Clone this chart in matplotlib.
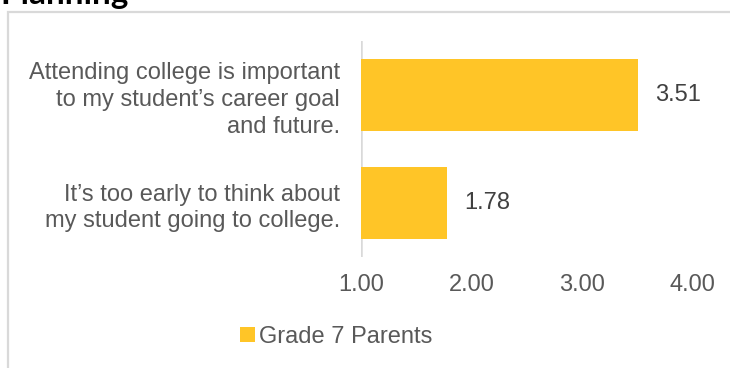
import matplotlib
matplotlib.use("Agg")
import matplotlib.pyplot as plt
from matplotlib.patches import Rectangle

categories = [
    "Attending college is important\nto my student\u2019s career goal\nand future.",
    "It\u2019s too early to think about\nmy student going to college.",
]
values = [3.51, 1.78]
series_name = "Grade 7 Parents"
xticks = [1.0, 2.0, 3.0, 4.0]
title = "Planning"

W, H = 730, 368
fig = plt.figure(figsize=(W / 100, H / 100), dpi=100)

bar_color = "#FFC527"
text_color = "#595959"
value_color = "#404040"
grid_gray = "#D9D9D9"
font = "Liberation Sans"
fs = 17

# outer chart frame
fig.patches.append(Rectangle((8 / W, -0.05), 1.2, 1 - 12 / H + 0.05,
                             transform=fig.transFigure, fill=False,
                             edgecolor=grid_gray, lw=1.6, clip_on=False))

ax = fig.add_axes([361 / W, 1 - 257 / H, 331 / W, 216 / H])
y = list(range(len(categories)))
bars = ax.barh(y, [v - 1.0 for v in values], left=1.0, height=0.667,
               color=bar_color, label=series_name)
ax.set_xlim(1.0, 4.0)
ax.set_ylim(len(categories) - 0.5, -0.5)

for sp in ax.spines.values():
    sp.set_visible(False)
ax.axvline(1.0, color=grid_gray, lw=1.8, zorder=0)

ax.set_yticks(y)
ax.set_yticklabels(categories, fontsize=fs, color=text_color,
                   family=font, linespacing=1.28, ha="right")
ax.set_xticks(xticks)
ax.set_xticklabels([f"{t:.2f}" for t in xticks], fontsize=fs,
                   color=text_color, family=font)
ax.tick_params(axis="both", length=0)
ax.tick_params(axis="y", pad=15)
ax.tick_params(axis="x", pad=12)

for yi, v in zip(y, values):
    ax.text(v + 0.155, yi, f"{v:.2f}", va="center", ha="left",
            fontsize=fs, color=value_color, family=font)

leg = fig.legend(loc="center left", bbox_to_anchor=(240 / W, 1 - 337 / H),
                 frameon=False, handlelength=0.62, handleheight=0.62,
                 handletextpad=0.2, borderaxespad=0, borderpad=0,
                 prop={"family": font, "size": fs})
for t in leg.get_texts():
    t.set_color(text_color)

fig.text(0 / W, 1 - 4 / H, title, fontsize=24, fontweight="bold",
         family="Lato", color="black", ha="left", va="baseline")

fig.savefig("out.png", dpi=100)
